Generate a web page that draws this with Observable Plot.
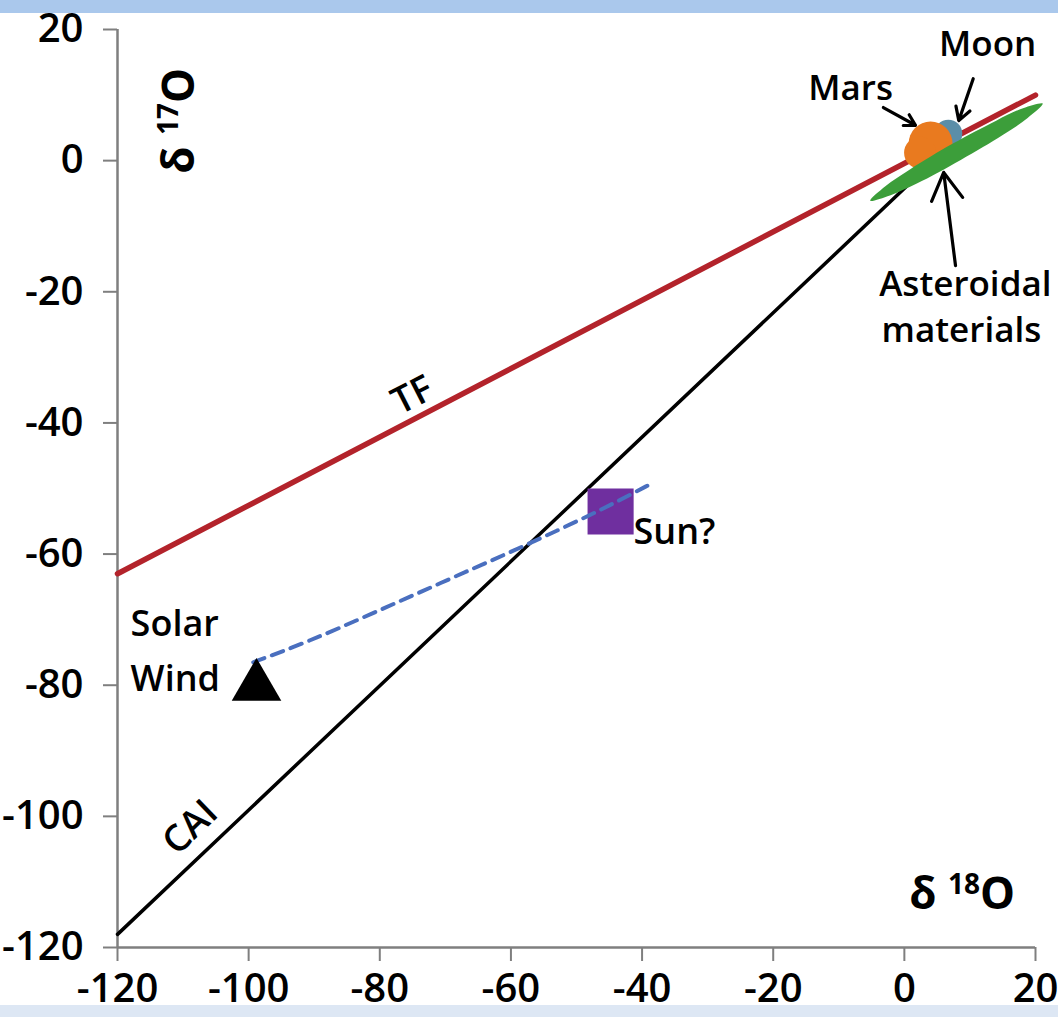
<!DOCTYPE html>
<html>
<head>
<meta charset="utf-8">
<script src="https://cdn.jsdelivr.net/npm/d3@7"></script>
<script src="https://cdn.jsdelivr.net/npm/@observablehq/plot@0.6"></script>
<style>
  html, body { margin: 0; padding: 0; background: #ffffff; }
  #topband { height: 13px; background: #aac8ec; }
  #bottomband { height: 12px; background: #dde7f4; }
  #chart svg { display: block; }
</style>
</head>
<body>
<div id="topband"></div>
<div id="chart"></div>
<div id="bottomband"></div>
<script>
// ---- Data ----
const xTicks = [-120, -100, -80, -60, -40, -20, 0, 20];
const yTicks = [-120, -100, -80, -60, -40, -20, 0, 20];

// Terrestrial fractionation line (TF)
const tfLine = [{x: -120, y: -63}, {x: 20, y: 10}];
// CAI mixing line
const caiLine = [{x: -120, y: -118}, {x: 3, y: -1.4}];

// Solar wind -> Sun dashed trend
const windTrend = [
  {x: -99.3, y: -76.5}, {x: -91.0, y: -73.4}, {x: -81.0, y: -69.0},
  {x: -70.7, y: -64.4}, {x: -60.5, y: -59.9}, {x: -52.9, y: -56.4},
  {x: -45.3, y: -52.8}, {x: -38.3, y: -49.1}
];

// Asteroidal materials field outline
const asteroidal = [
  {x: -5.2, y: -6.1}, {x: -2.9, y: -3.9}, {x: 0.9, y: -1.3}, {x: 7.4, y: 2.6},
  {x: 14.0, y: 6.1}, {x: 18.1, y: 8.0}, {x: 21.1, y: 8.7}, {x: 18.8, y: 6.5},
  {x: 15.0, y: 3.9}, {x: 8.6, y: 0.1}, {x: 1.9, y: -3.5}, {x: -2.2, y: -5.3}
];

// Mars field drawn as two overlapping blobs, Moon as one
const mars = [{x: 4.0, y: 2.6, r: 22}, {x: 2.4, y: 1.2, r: 16}];
const moon = [{x: 6.7, y: 4.1}];
const sun = [{x: -44.8, y: -53.5}];
const solarWind = [{x: -98.8, y: -80.2}];

const arrows = [
  {name: "Mars", x1: -3.2, y1: 8.1, x2: 1.7, y2: 5.4},
  {name: "Moon", x1: 10.5, y1: 12.5, x2: 8.3, y2: 6.1},
  {name: "Asteroidal", x1: 7.8, y1: -16.0, x2: 6.0, y2: -1.8}
];

const centeredLabels = [
  {text: "Mars", x: -8.2, y: 11.0},
  {text: "Moon", x: 12.7, y: 17.6},
  {text: "Asteroidal", x: 9.3, y: -18.9},
  {text: "materials", x: 8.7, y: -26.0}
];
const startLabels = [
  {text: "Solar", x: -118, y: -70.7},
  {text: "Wind", x: -118, y: -79.1},
  {text: "Sun?", x: -41.3, y: -56.7}
];
const lineLabels = [
  {text: "TF", x: -75.0, y: -35.8, rotate: -27},
  {text: "CAI", x: -108.9, y: -101.7, rotate: -44}
];

// ---- Chart ----
const font = "'Open Sans', 'Liberation Sans', sans-serif";
const plot = Plot.plot({
  width: 1058,
  height: 992,
  marginLeft: 117,
  marginRight: 23,
  marginTop: 16,
  marginBottom: 58,
  x: {domain: [-120, 20]},
  y: {domain: [-120, 20]},
  r: {type: "identity"},
  style: {fontFamily: font, background: "#ffffff", color: "#000000", overflow: "visible"},
  marks: [
    Plot.axisX({ticks: xTicks, tickSize: 14, tickPadding: 12, fontSize: 40, fontWeight: 600,
      stroke: "#7f7f7f", strokeWidth: 2, label: null, tickFormat: d => String(d)}),
    Plot.axisY({ticks: yTicks, tickSize: 14, tickPadding: 20, fontSize: 40, fontWeight: 600,
      stroke: "#7f7f7f", strokeWidth: 2, label: null, tickFormat: d => String(d)}),
    Plot.ruleX([-120], {stroke: "#7f7f7f", strokeWidth: 2.5}),
    Plot.ruleY([-120], {stroke: "#7f7f7f", strokeWidth: 2.5}),
    Plot.line(tfLine, {x: "x", y: "y", stroke: "#b3232b", strokeWidth: 5.5}),
    Plot.line(caiLine, {x: "x", y: "y", stroke: "#000000", strokeWidth: 3.5}),
    Plot.dot(moon, {x: "x", y: "y", r: 14, fill: "#5b8ea8", stroke: "none"}),
    Plot.dot(mars, {x: "x", y: "y", r: "r", fill: "#e97a1f", stroke: "none"}),
    Plot.line(asteroidal, {x: "x", y: "y", fill: "#3c9e3a", stroke: "none", curve: "catmull-rom-closed"}),
    Plot.dot(sun, {x: "x", y: "y", symbol: "square", r: 26, fill: "#6f2f9f", stroke: "none"}),
    Plot.line(windTrend, {x: "x", y: "y", stroke: "#4a6fbf", strokeWidth: 4, strokeDasharray: "12,8", curve: "basis"}),
    Plot.dot(solarWind, {x: "x", y: "y", symbol: "triangle", r: 18.4, fill: "#000000", stroke: "none"}),
    Plot.arrow(arrows, {x1: "x1", y1: "y1", x2: "x2", y2: "y2", stroke: "#000000", strokeWidth: 3.2, headLength: 17}),
    Plot.text(centeredLabels, {x: "x", y: "y", text: "text", textAnchor: "middle", fontSize: 35, fontWeight: 600, fill: "#000000"}),
    Plot.text(startLabels, {x: "x", y: "y", text: "text", textAnchor: "start", fontSize: 36, fontWeight: 600, fill: "#000000"}),
    Plot.text(lineLabels, {x: "x", y: "y", text: "text", rotate: "rotate", fontSize: 37, fontWeight: 600, fill: "#000000"})
  ]
});
document.getElementById("chart").appendChild(plot);

// Axis titles with superscripts, positioned through Plot's scales
const sx = plot.scale("x"), sy = plot.scale("y");
const svg = d3.select(plot);
const yTitle = {x: -110.7, y: 6.0, sup: "17"};
const xTitle = {x: 8.9, y: -111.8, sup: "18"};
function addTitle(t, rotate) {
  const g = svg.append("text")
    .attr("transform", `translate(${sx.apply(t.x)},${sy.apply(t.y)}) rotate(${rotate})`)
    .attr("text-anchor", "middle")
    .attr("dy", "0.36em")
    .attr("font-family", font)
    .attr("font-weight", 700)
    .attr("font-size", 44)
    .attr("fill", "#000000");
  g.append("tspan").text("δ ");
  g.append("tspan").attr("font-size", 28).attr("dy", "-0.55em").text(t.sup);
  g.append("tspan").attr("dy", "0.35em").text("O");
}
addTitle(yTitle, -90);
addTitle(xTitle, 0);
</script>
</body>
</html>
